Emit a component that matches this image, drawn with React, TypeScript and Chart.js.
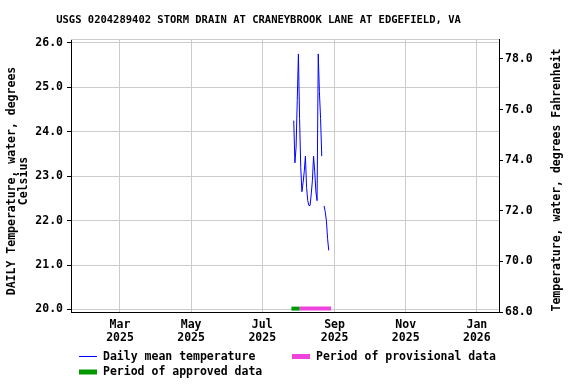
import React, { useEffect, useRef } from "react";
import { Chart, registerables } from "chart.js";

Chart.register(...registerables);

const TITLE = "USGS 0204289402 STORM DRAIN AT CRANEYBROOK LANE AT EDGEFIELD, VA";
const Y_TITLE_LEFT = ["DAILY Temperature, water, degrees", "Celsius"];
const Y_TITLE_RIGHT = "Temperature, water, degrees Fahrenheit";

const SERIES_LABEL = "Daily mean temperature";
const APPROVED_LABEL = "Period of approved data";
const PROVISIONAL_LABEL = "Period of provisional data";

const dates = [
  "2025-07-28", "2025-07-29", "2025-07-30", "2025-07-31", "2025-08-01",
  "2025-08-02", "2025-08-03", "2025-08-04", "2025-08-05", "2025-08-06",
  "2025-08-07", "2025-08-08", "2025-08-09", "2025-08-10", "2025-08-11",
  "2025-08-12", "2025-08-13", "2025-08-14", "2025-08-15", "2025-08-16",
  "2025-08-17", "2025-08-18", "2025-08-19", "2025-08-20", "2025-08-21",
  "2025-08-22", "2025-08-23", "2025-08-24", "2025-08-25", "2025-08-26",
  "2025-08-27",
];
const dailyMeanC: (number | null)[] = [
  24.25, 23.3, 23.65, 24.7, 25.75,
  24.3, 23.2, 22.65, 22.85, 23.1,
  23.45, 22.75, 22.45, 22.34, 22.34,
  22.6, 22.9, 23.45, 23.1, 22.65,
  22.45, 25.75, 24.9, 24.3, 23.45,
  null, 22.33, 22.2, 22.0, 21.6,
  21.33,
];

const approvedPeriod = ["2025-07-26", "2025-08-02"];
const provisionalPeriod = ["2025-08-02", "2025-08-29"];
const periodLevelC = 20.02;

const xDomain = ["2025-01-18", "2026-01-20"];
const xTickDates = ["2025-03-01", "2025-05-01", "2025-07-01", "2025-09-01", "2025-11-01", "2026-01-01"];
const xTickLabels = [
  ["Mar", "2025"], ["May", "2025"], ["Jul", "2025"],
  ["Sep", "2025"], ["Nov", "2025"], ["Jan", "2026"],
];
const celsiusTicks = [20, 21, 22, 23, 24, 25, 26];
const celsiusDomain = [19.944, 26.086];
const fahrenheitTicks = [68, 70, 72, 74, 76, 78];
const fahrenheitDomain = [68, 78.79];

const FONT_FAMILY = '"DejaVu Sans Mono", "Liberation Mono", monospace';
const GRID = "#cccccc";

const toDay = (s: string) => {
  const [y, m, d] = s.split("-").map(Number);
  return Date.UTC(y, m - 1, d) / 86400000;
};

const decoPlugin = {
  id: "deco",
  afterDraw(chart: any) {
    const { ctx, chartArea } = chart;
    ctx.save();
    // top frame line
    ctx.strokeStyle = GRID;
    ctx.lineWidth = 1;
    ctx.beginPath();
    ctx.moveTo(chartArea.left, chartArea.top + 0.5);
    ctx.lineTo(chartArea.right, chartArea.top + 0.5);
    ctx.stroke();

    ctx.fillStyle = "#000";
    // title
    ctx.font = `bold 10.5px ${FONT_FAMILY}`;
    ctx.textAlign = "center";
    ctx.textBaseline = "middle";
    ctx.fillText(TITLE, 258.5, 20);

    // axis titles
    ctx.font = `bold 11.5px ${FONT_FAMILY}`;
    ctx.save();
    ctx.translate(12, 181);
    ctx.rotate(-Math.PI / 2);
    ctx.fillText(Y_TITLE_LEFT[0], 0, 0);
    ctx.fillText(Y_TITLE_LEFT[1], 0, 12.5);
    ctx.restore();
    ctx.save();
    ctx.translate(557, 180);
    ctx.rotate(-Math.PI / 2);
    ctx.fillText(Y_TITLE_RIGHT, 0, 0);
    ctx.restore();

    // legend
    const ds = chart.data.datasets;
    const items = [
      { d: ds[0], x: 79, y: 357, w: 1 },
      { d: ds[2], x: 292, y: 357, w: 5 },
      { d: ds[1], x: 79, y: 372.5, w: 5 },
    ];
    ctx.textAlign = "left";
    for (const it of items) {
      ctx.strokeStyle = it.d.borderColor;
      ctx.lineWidth = it.w;
      ctx.beginPath();
      const yy = it.w === 1 ? Math.floor(it.y) - 0.5 : it.y - 0.5;
      ctx.moveTo(it.x, yy);
      ctx.lineTo(it.x + 18, yy);
      ctx.stroke();
      ctx.fillStyle = "#000";
      ctx.fillText(it.d.label, it.x + 24, it.y);
    }
    ctx.restore();
  },
};

export default function App() {
  const ref = useRef<HTMLCanvasElement | null>(null);

  useEffect(() => {
    if (!ref.current) return;
    const tickFont = { family: FONT_FAMILY, size: 11.5, weight: "bold" as const, lineHeight: 13 / 11.5 };
    const lineData = dates.map((d, i) => ({ x: toDay(d), y: dailyMeanC[i] }));
    const chart = new Chart(ref.current, {
      type: "line",
      data: {
        datasets: [
          {
            label: SERIES_LABEL,
            data: lineData,
            borderColor: "#0000ff",
            borderWidth: 1,
            pointRadius: 0,
            tension: 0,
            spanGaps: false,
            fill: false,
            yAxisID: "y",
          },
          {
            label: APPROVED_LABEL,
            data: approvedPeriod.map((d) => ({ x: toDay(d), y: periodLevelC })),
            borderColor: "#009900",
            borderWidth: 4,
            borderCapStyle: "butt",
            pointRadius: 0,
            fill: false,
            yAxisID: "y",
          },
          {
            label: PROVISIONAL_LABEL,
            data: provisionalPeriod.map((d) => ({ x: toDay(d), y: periodLevelC })),
            borderColor: "#ee44dd",
            borderWidth: 4,
            borderCapStyle: "butt",
            pointRadius: 0,
            fill: false,
            yAxisID: "y",
          },
        ],
      },
      options: {
        responsive: false,
        animation: false,
        layout: { padding: { top: 39, left: 0, right: 0, bottom: 0 } },
        plugins: {
          legend: { display: false },
          title: { display: false },
          tooltip: { enabled: false },
        },
        scales: {
          x: {
            type: "linear",
            position: "bottom",
            min: toDay(xDomain[0]),
            max: toDay(xDomain[1]),
            afterBuildTicks: (s: any) => {
              s.ticks = xTickDates.map((d) => ({ value: toDay(d) }));
            },
            afterFit: (s: any) => {
              s.height = 72;
            },
            ticks: {
              autoSkip: false,
              maxRotation: 0,
              minRotation: 0,
              padding: 7,
              color: "#000",
              font: tickFont,
              callback: (v: any) => {
                const i = xTickDates.findIndex((d) => toDay(d) === v);
                return i >= 0 ? xTickLabels[i] : "";
              },
            },
            grid: { color: GRID, drawTicks: false },
            border: { color: "#000", width: 1 },
          },
          y: {
            type: "linear",
            position: "left",
            min: celsiusDomain[0],
            max: celsiusDomain[1],
            afterBuildTicks: (s: any) => {
              s.ticks = celsiusTicks.map((v) => ({ value: v }));
            },
            afterFit: (s: any) => {
              s.width = 71;
            },
            ticks: {
              padding: 4,
              color: "#000",
              font: tickFont,
              callback: (v: any) => Number(v).toFixed(1),
            },
            grid: { color: GRID, tickColor: "#000", tickLength: 4, drawTicks: true },
            border: { color: "#000", width: 1 },
          },
          y2: {
            type: "linear",
            position: "right",
            min: fahrenheitDomain[0],
            max: fahrenheitDomain[1],
            afterBuildTicks: (s: any) => {
              s.ticks = fahrenheitTicks.map((v) => ({ value: v }));
            },
            afterFit: (s: any) => {
              s.width = 77;
            },
            ticks: {
              padding: 2,
              color: "#000",
              font: tickFont,
              callback: (v: any) => Number(v).toFixed(1),
            },
            grid: { drawOnChartArea: false, tickColor: "#000", tickLength: 4, drawTicks: true },
            border: { color: "#000", width: 1 },
          },
        },
      },
      plugins: [decoPlugin],
    });
    return () => chart.destroy();
  }, []);

  return (
    <div style={{ position: "fixed", left: 0, top: 0, width: 576, height: 384, background: "#fff" }}>
      <canvas ref={ref} width={576} height={384} style={{ display: "block", width: 576, height: 384 }} />
    </div>
  );
}
